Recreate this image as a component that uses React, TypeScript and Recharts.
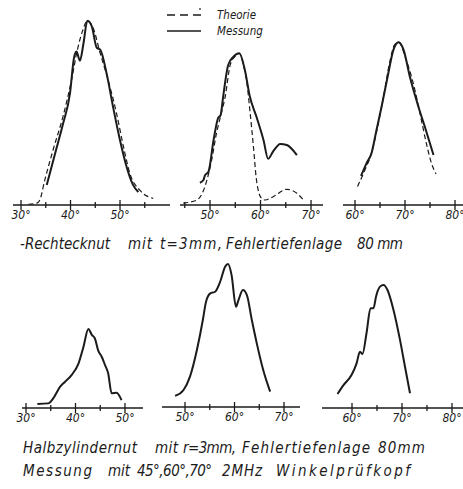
import React from "react";
import { Line, LineChart, XAxis, YAxis } from "recharts";

// angle in degrees, amplitude in % of the largest echo
const rechteck45Theorie = [
  [31.5, 0.4], [33.2, 1], [33.8, 2.7], [34.8, 13.5], [36.5, 30], [38.5, 48], [40.2, 67.5],
  [41.4, 84], [42.5, 94.6], [43.4, 99.6], [44.6, 95.5], [46, 82], [47.6, 67.5], [49.3, 49.5],
  [50.7, 31.5], [52, 17], [54, 8], [56.7, 3.6],
];
const rechteck45Messung = [
  [35.2, 10.8], [36.9, 28], [38.5, 44], [39.9, 60.5], [40.7, 79.5], [41.2, 83], [41.9, 78],
  [42.6, 87], [43.4, 99.6], [44.3, 96.5], [45.3, 85], [46, 84], [47.3, 71], [48.6, 53],
  [50, 35], [51.4, 20], [52.6, 11], [53.7, 7],
];
const rechteck60Theorie = [
  [44.7, 1], [47.4, 2.7], [49, 10], [50.3, 24], [51.3, 39], [52, 47], [53, 58.5], [54, 75.7],
  [55, 80.5], [55.8, 82], [56.6, 76], [57.3, 66], [57.9, 51], [58.6, 31.5], [59.2, 13.5],
  [60.2, 3.6], [60.9, 2.7], [62.5, 4.5], [65.2, 8.5], [67.2, 6.3], [68.5, 2.7],
];
const rechteck60Messung = [
  [48, 12], [48.7, 13.5], [49, 16], [49.7, 18], [50.7, 35], [51.6, 47], [52.1, 48.6],
  [52.6, 58.5], [53.6, 75.7], [54.6, 80], [55.8, 82], [56.9, 73], [57.9, 58.5], [59.2, 47.7],
  [60.6, 35], [61.5, 25], [62.5, 29], [63.9, 33], [65.2, 32.4], [67.2, 27],
];
const rechteck70Theorie = [
  [60.5, 10], [62, 19], [63.3, 28], [64.5, 42], [65.7, 58.5], [66.9, 76.6], [67.9, 86.5],
  [68.7, 88], [70.3, 78], [72, 62], [73, 49.5], [74.3, 33], [75.3, 22.5], [76.2, 16.8],
];
const rechteck70Messung = [
  [61.2, 15.7], [62.3, 22.5], [63.3, 28], [64.3, 40.5], [65.3, 53], [66.5, 69], [67.7, 84],
  [68.7, 88], [69.7, 84], [71, 69], [72.7, 53], [74, 42], [75.7, 27],
];
const halbzyl45Messung = [
  [32.3, 2.2], [34.5, 2.5], [35.5, 5.2], [36.9, 11.5], [37.9, 14.2], [39.2, 17.8], [40.6, 24],
  [41.6, 33], [42.6, 42.7], [43.3, 39.5], [43.9, 37.7], [44.6, 31], [45.3, 27.7], [46, 23],
  [46.6, 18.8], [47.3, 8], [48.3, 8.3], [49.3, 4.3],
];
const halbzyl60Messung = [
  [48, 6], [49.7, 9.2], [51, 16.4], [52.4, 30.8], [53.6, 47], [54.2, 56.4], [55.1, 61.4],
  [56.1, 62.3], [57.1, 67.7], [58.1, 75.8], [58.7, 77.3], [59.4, 71.4], [60.3, 54.2],
  [60.8, 57.8], [61.7, 63.2], [62.5, 60.5], [63.5, 47], [64.5, 34.4], [65.8, 20], [67.2, 8.3],
];
const halbzyl70Messung = [
  [57.1, 7.6], [58.3, 12.4], [59.9, 17.8], [60.9, 24], [61.6, 30.4], [62.1, 29.2], [62.9, 40.4],
  [63.7, 53.9], [64.3, 53.9], [64.8, 60.2], [65.6, 65.6], [66.3, 66.5], [67.1, 63.8],
  [68.3, 53], [69.6, 36.8], [70.6, 22.3], [71.6, 8],
];

const ticks45 = [30, 35, 40, 45, 50, 55];
const ticks45b = [30, 35, 40, 45, 50];
const ticks60 = [45, 50, 55, 60, 65, 70];
const ticks60b = [50, 55, 60, 65, 70];
const ticks70 = [60, 65, 70, 75, 80];

const captionRechteck = ["-Rechtecknut", "mit", "t=3mm,", "Fehlertiefenlage", "80 mm"];
const captionHalbzyl = ["Halbzylindernut", "mit", "r=3mm,", "Fehlertiefenlage", "80mm"];
const captionMessung = ["Messung", "mit", "45°,60°,70°", "2MHz", "Winkelprüfkopf"];
const legendLabels = ["Theorie", "Messung"];

const INK = "#1b1b1b";
const FONT = '"DejaVu Sans Condensed", "DejaVu Sans", sans-serif';
const PAD = 16;

const toPts = (rows: number[][]) => rows.map(([d, a]) => ({ d, a }));

function DegTick(props: any) {
  const { x, y, payload } = props;
  const major = payload.value % 10 === 0;
  const h = major ? 5 : 3;
  return (
    <g>
      <line x1={x} x2={x} y1={y - h} y2={y + h} stroke={INK} strokeWidth={1.3} />
      {major && (
        <text x={x} y={y + 14} textAnchor="middle" fontSize={12} fontStyle="italic" fontFamily={FONT} fill={INK}>
          {payload.value}°
        </text>
      )}
    </g>
  );
}

function Panel({
  left,
  top,
  width,
  domain,
  ticks,
  theorie,
  messung,
}: {
  left: number;
  top: number;
  width: number;
  domain: [number, number];
  ticks: number[];
  theorie?: number[][];
  messung: number[][];
}) {
  return (
    <div style={{ position: "absolute", left: left - PAD, top }}>
      <LineChart width={width + 2 * PAD} height={210} margin={{ top: 0, right: PAD, left: PAD, bottom: 0 }}>
        <XAxis
          type="number"
          dataKey="d"
          domain={domain}
          allowDataOverflow
          ticks={ticks}
          interval={0}
          tickLine={false}
          tickSize={0}
          tickMargin={0}
          height={25}
          axisLine={{ stroke: INK, strokeWidth: 1.3 }}
          tick={<DegTick />}
        />
        <YAxis hide type="number" dataKey="a" domain={[0, 100]} allowDataOverflow />
        {theorie && (
          <Line
            data={toPts(theorie)}
            dataKey="a"
            type="monotone"
            stroke={INK}
            strokeWidth={1.2}
            strokeDasharray="5 3"
            dot={false}
            isAnimationActive={false}
          />
        )}
        <Line
          data={toPts(messung)}
          dataKey="a"
          type="monotone"
          stroke={INK}
          strokeWidth={2}
          dot={false}
          isAnimationActive={false}
        />
      </LineChart>
    </div>
  );
}

const captionText = (words: string[], xs: number[][], baseline: number) =>
  words.map((w, i) => (
    <text
      key={w + i}
      x={xs[i][0]}
      y={baseline}
      textLength={xs[i][1] - xs[i][0]}
      lengthAdjust="spacing"
      fontSize={15}
      fontStyle="italic"
      fontFamily={FONT}
      fill={INK}
    >
      {w}
    </text>
  ));

export default function App() {
  return (
    <div style={{ position: "absolute", left: 0, top: 0, width: 463, height: 489, background: "#fff", overflow: "hidden" }}>
      <Panel left={13} top={20} width={157} domain={[28.38, 60.1]} ticks={ticks45} theorie={rechteck45Theorie} messung={rechteck45Messung} />
      <Panel left={180} top={20} width={143} domain={[44.06, 72.37]} ticks={ticks60} theorie={rechteck60Theorie} messung={rechteck60Messung} />
      <Panel left={343} top={20} width={120} domain={[57.6, 81.6]} ticks={ticks70} theorie={rechteck70Theorie} messung={rechteck70Messung} />
      <Panel left={22} top={223} width={121} domain={[29.19, 53.64]} ticks={ticks45b} messung={halbzyl45Messung} />
      <Panel left={162} top={222} width={138} domain={[45.35, 73.23]} ticks={ticks60b} messung={halbzyl60Messung} />
      <Panel left={322} top={223} width={141} domain={[54, 82.2]} ticks={ticks70} messung={halbzyl70Messung} />
      <svg width={463} height={489} style={{ position: "absolute", left: 0, top: 0, pointerEvents: "none" }}>
        <line x1={167} x2={201} y1={15} y2={15} stroke={INK} strokeWidth={1.4} strokeDasharray="8 5" />
        <line x1={200} x2={200} y1={8} y2={10} stroke={INK} strokeWidth={1.2} />
        <line x1={167} x2={201} y1={31} y2={31} stroke={INK} strokeWidth={1.6} />
        <text x={217} y={19} fontSize={11.5} fontStyle="italic" fontFamily={FONT} fill={INK}>{legendLabels[0]}</text>
        <text x={217} y={35} fontSize={11.5} fontStyle="italic" fontFamily={FONT} fill={INK}>{legendLabels[1]}</text>
        {captionText(captionRechteck, [[20, 110], [128, 152], [160, 222], [226, 342], [357, 403]], 249)}
        {captionText(captionHalbzyl, [[23, 137], [155, 178], [183, 236], [242, 370], [378, 425]], 453)}
        {captionText(captionMessung, [[23, 92], [108, 130], [137, 212], [222, 262], [276, 410]], 476)}
      </svg>
    </div>
  );
}
